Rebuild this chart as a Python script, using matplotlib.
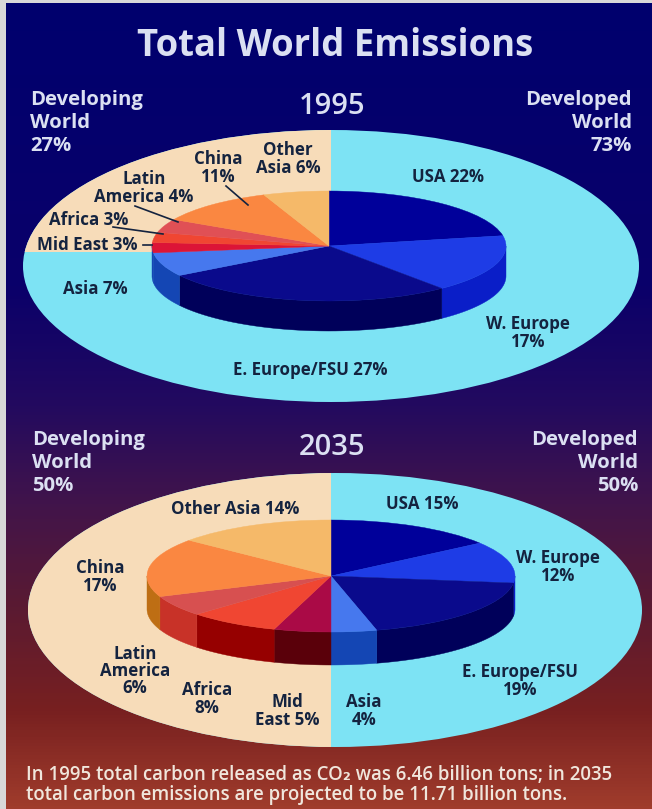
import numpy as np
import matplotlib
matplotlib.use('Agg')
import matplotlib.pyplot as plt
from matplotlib.colors import LinearSegmentedColormap
from matplotlib.patches import Ellipse, Rectangle, Polygon
from matplotlib.transforms import Affine2D

plt.rcParams['font.family'] = ['Open Sans', 'DejaVu Sans']

# share of world emissions, clockwise from 12 o'clock
regions = ['USA', 'W. Europe', 'E. Europe/FSU', 'Asia', 'Mid East', 'Africa',
           'Latin America', 'China', 'Other Asia']
values_1995 = [22, 17, 27, 7, 3, 3, 4, 11, 6]
values_2035 = [15, 12, 19, 4, 5, 8, 6, 17, 14]

labels_1995 = ['USA 22%', 'W. Europe\n17%', 'E. Europe/FSU 27%', 'Asia 7%', 'Mid East 3%',
               'Africa 3%', 'Latin\nAmerica 4%', 'China\n11%', 'Other\nAsia 6%']
labels_2035 = ['USA 15%', 'W. Europe\n12%', 'E. Europe/FSU\n19%', 'Asia\n4%', 'Mid\nEast 5%',
               'Africa\n8%', 'Latin\nAmerica\n6%', 'China\n17%', 'Other Asia 14%']

TITLE = 'Total World Emissions'
FOOT = ('In 1995 total carbon released as CO\u2082 was 6.46 billion tons; in 2035\n'
        'total carbon emissions are projected to be 11.71 billion tons.')

CREAM = '#f7dcb9'
SKY = '#7de3f4'
LIGHT = '#dbe0f2'
DARK = '#14233f'

top_1995 = ['#00009a', '#1e3ce6', '#0a0a8c', '#4678ee', '#dc1437',
            '#f04632', '#e05055', '#fa8741', '#f5b969']
top_2035 = ['#00009a', '#1e3ce6', '#0a0a8c', '#4678ee', '#aa0a46',
            '#f04632', '#d75050', '#fa8741', '#f5b969']
side_1995 = ['#00006e', '#0a1ec8', '#00005a', '#1446b4', '#1446b4',
             '#960000', '#c83228', '#be6e14', '#c88c3c']
side_2035 = ['#00006e', '#0a1ec8', '#00005a', '#1446b4', '#5a000a',
             '#960000', '#c83228', '#be6e14', '#c88c3c']


def draw_pie(ax, cx, cy, rx, ry, depth, values, top, side):
	edges = np.cumsum([0] + values) / sum(values) * 2 * np.pi

	# walls, only the front half of the rim shows
	for i in range(len(values)):
		a0 = max(edges[i], np.pi / 2)
		a1 = min(edges[i + 1], 3 * np.pi / 2)
		if a1 <= a0:
			continue
		t = np.linspace(a0, a1, 40)
		x = cx + rx * np.sin(t)
		y = cy - ry * np.cos(t)
		pts = np.column_stack([np.r_[x, x[::-1]], np.r_[y, y[::-1] + depth]])
		ax.add_patch(Polygon(pts, closed=True, fc=side[i], ec=side[i], lw=0.3, zorder=3))

	wedges, _ = ax.pie(values, colors=top, startangle=90, counterclock=False, radius=1,
		wedgeprops={'linewidth': 0.3})
	tr = Affine2D().scale(rx, -ry).translate(cx, cy) + ax.transData
	for w, c in zip(wedges, top):
		w.set_transform(tr)
		w.set_edgecolor(c)
		w.set_zorder(4)


def draw_plate(ax, cx, cy, rx, ry, split_x, split_y):
	ax.add_patch(Ellipse((cx, cy), 2 * rx, 2 * ry, fc=SKY, ec='none', zorder=2))
	cream = Ellipse((cx, cy), 2 * rx, 2 * ry, fc=CREAM, ec='none', zorder=2.1)
	ax.add_patch(cream)
	cream.set_clip_path(Rectangle((0, cy - ry - 2), split_x, split_y - cy + ry + 2, transform=ax.transData))


def put_labels(ax, labels, where):
	for s, (x, y) in zip(labels, where):
		ax.text(x, y + 2, s, ha='center', va='center', ma='center', color=DARK, fontsize=12.2,
			fontweight='bold', linespacing=0.96, zorder=6)


fig = plt.figure(figsize=(6.52, 8.09), dpi=100, facecolor='#d8d8d8')
ax = fig.add_axes([0, 0, 1, 1])

bg = LinearSegmentedColormap.from_list('bg', [
	(0.0, '#00006e'), (0.35, '#0a006a'), (0.5, '#230a5f'), (0.62, '#41144b'),
	(0.75, '#5a1a32'), (0.88, '#782020'), (1.0, '#a03c2c')])
ax.imshow(np.linspace(0, 1, 256)[:, None], cmap=bg, aspect='auto', extent=(6, 652, 809, 3), zorder=0)

draw_plate(ax, 331, 266, 308, 136, 331, 252)
draw_plate(ax, 335, 610, 307, 137, 331, 747)

draw_pie(ax, 329, 246, 177, 55, 30, values_1995, top_1995, side_1995)
draw_pie(ax, 331, 576, 184, 56, 33, values_2035, top_2035, side_2035)

ax.set_xlim(0, 652)
ax.set_ylim(809, 0)
ax.set_aspect('auto')
ax.axis('off')

ax.text(335, 46, TITLE, ha='center', va='center', color=LIGHT, fontsize=26.3, fontweight='bold', zorder=6)
ax.text(332, 106, '1995', ha='center', va='center', color=LIGHT, fontsize=21, fontweight='semibold', zorder=6)
ax.text(332, 447, '2035', ha='center', va='center', color=LIGHT, fontsize=21, fontweight='semibold', zorder=6)

side_kw = dict(va='center', color=LIGHT, fontsize=14.6, fontweight='bold', linespacing=1.19, zorder=6)
ax.text(30, 123, 'Developing\nWorld\n27%', ha='left', ma='left', **side_kw)
ax.text(632, 123, 'Developed\nWorld\n73%', ha='right', ma='right', **side_kw)
ax.text(32, 463, 'Developing\nWorld\n50%', ha='left', ma='left', **side_kw)
ax.text(638, 463, 'Developed\nWorld\n50%', ha='right', ma='right', **side_kw)

put_labels(ax, labels_1995, [(448, 175), (528, 331), (310, 368), (95, 287), (87, 243),
	(89, 218), (144, 186), (218, 166), (288, 157)])
put_labels(ax, labels_2035, [(422, 502), (558, 565), (520, 679), (364, 709), (287, 709),
	(207, 697), (135, 669), (100, 575), (235, 507)])

# leader lines on the 1995 pie
leaders_x = [(226, 248), (135, 178), (113, 163), (143, 152)]
leaders_y = [(186, 205), (206, 222), (227, 234), (245, 245)]
for lx, ly in zip(leaders_x, leaders_y):
	ax.plot(lx, ly, color=DARK, lw=1.2, zorder=6)

ax.text(26, 785, FOOT, ha='left', va='center', ma='left', color='#f0e6dc', fontsize=13.4,
	fontweight='semibold', linespacing=0.98, zorder=6)

fig.savefig('out.png', dpi=100, facecolor=fig.get_facecolor())
